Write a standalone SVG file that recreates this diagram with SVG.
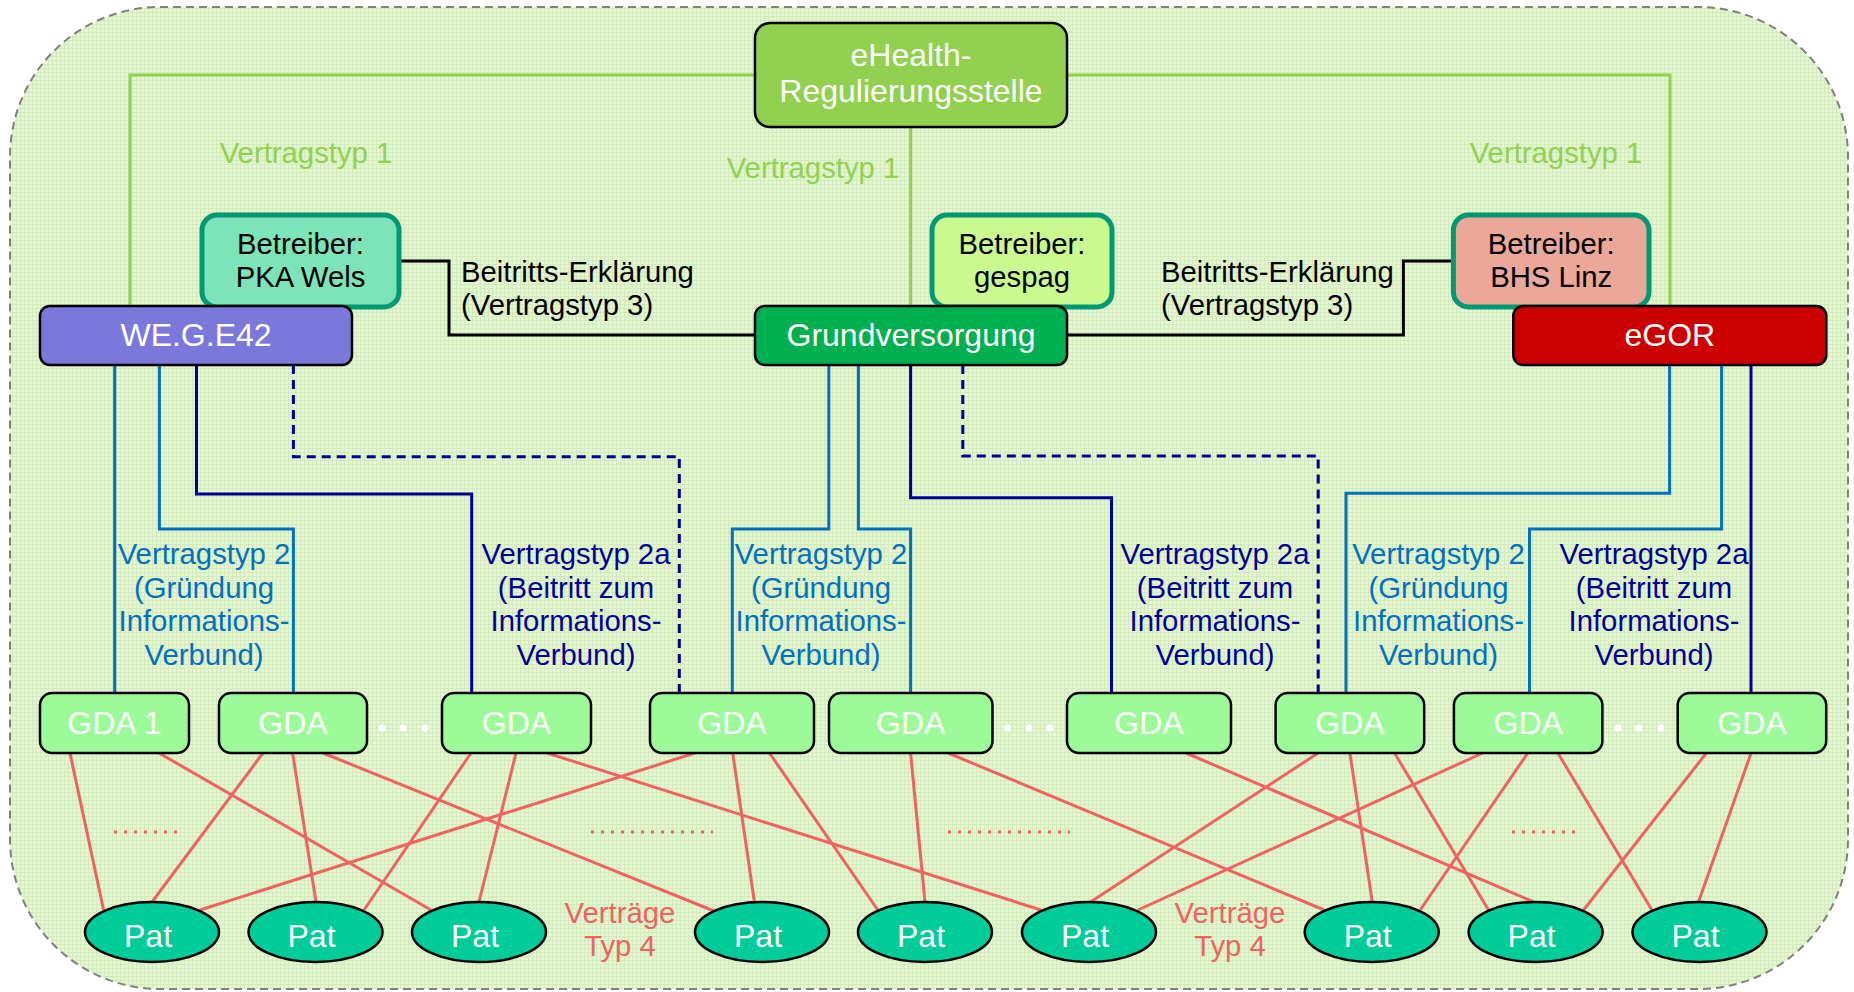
<svg xmlns="http://www.w3.org/2000/svg" width="1854" height="992" viewBox="0 0 1854 992">
<defs>
<pattern id="grid" width="4" height="4" patternUnits="userSpaceOnUse">
<rect width="4" height="4" fill="#E5F6D3"/>
<path d="M0 0.5H4M0.5 0V4" stroke="#D2EABC" stroke-width="1"/>
</pattern>
<style>
text{font-family:"Liberation Sans",Arial,sans-serif;}
.nt{font-size:32px;fill:#fff;text-anchor:middle;}
.bt{font-size:29.3px;fill:#000;text-anchor:middle;}
.box{stroke:#000;stroke-width:2.5;}
.betr{stroke:#009973;stroke-width:5;}
.gda{fill:#9CFB98;stroke:#000;stroke-width:2.5;}
.pat{fill:#00CC99;stroke:#000;stroke-width:2.5;}
.g1{fill:none;stroke:#92D050;stroke-width:3;}
.bk{fill:none;stroke:#000;stroke-width:3;}
.lb{fill:none;stroke:#0070C0;stroke-width:3;}
.nv{fill:none;stroke:#000099;stroke-width:3;}
.dash{stroke-dasharray:9 6;}
.rd{stroke:#F06262;stroke-width:3;}
.dots{stroke:#F06262;stroke-width:3;stroke-dasharray:3 7;}
.lab{font-size:29.3px;text-anchor:middle;}
.l1{fill:#92D050;}
.l2{fill:#0070C0;}
.l2a{fill:#000099;}
.l4{fill:#F06262;}
.be{font-size:29.3px;fill:#000;}
</style>
</defs>
<rect x="0" y="0" width="1854" height="992" fill="#fff"/>
<rect x="10" y="7" width="1838" height="982" rx="150" ry="150" fill="url(#grid)" stroke="#808080" stroke-width="2" stroke-dasharray="8 5"/>

<g id="connectors">
<path class="g1" d="M130,306V75H755"/>
<path class="g1" d="M1067,75H1670V306"/>
<path class="g1" d="M910.6,127V306" stroke-width="2"/>
<path class="bk" d="M399,261H449V335H755"/>
<path class="bk" d="M1453.4,261H1403.4V335H1067"/>
<path class="lb" d="M114.7,365V693"/>
<path class="lb" d="M159.4,365V529H293.4V693"/>
<path class="lb" d="M828.8,365V529H732.3V693"/>
<path class="lb" d="M858.4,365V529H910.6V693"/>
<path class="lb" d="M1669.6,365V493.3H1346V693"/>
<path class="lb" d="M1721.6,365V529H1529.5V693"/>
<path class="nv" d="M196.5,365V494H471.7V693"/>
<path class="nv" d="M910.6,365V497.7H1111.5V693"/>
<path class="nv" d="M1751,365V693"/>
<path class="nv dash" d="M293.4,365V456.7H679.3V693"/>
<path class="nv dash" d="M962.8,365V456H1318.2V693"/>
<g class="rd">
<line x1="70" y1="753" x2="103.6" y2="910"/>
<line x1="159" y1="753" x2="431" y2="910"/>
<line x1="263" y1="753" x2="152" y2="902"/>
<line x1="292.6" y1="753" x2="316" y2="902"/>
<line x1="323" y1="753" x2="714" y2="911"/>
<line x1="471" y1="753" x2="364" y2="910"/>
<line x1="516" y1="753" x2="479" y2="902"/>
<line x1="547" y1="753" x2="1041" y2="910"/>
<line x1="695" y1="753" x2="200" y2="910"/>
<line x1="732.7" y1="753" x2="754.4" y2="902"/>
<line x1="769.5" y1="753" x2="877.8" y2="910"/>
<line x1="910.6" y1="753" x2="925" y2="902"/>
<line x1="948" y1="753" x2="1324.2" y2="910"/>
<line x1="1186" y1="753" x2="1533.7" y2="902"/>
<line x1="1318.2" y1="753" x2="1090.5" y2="902"/>
<line x1="1482.7" y1="753" x2="1138" y2="910"/>
<line x1="1349.9" y1="753" x2="1372.3" y2="902"/>
<line x1="1394.5" y1="753" x2="1488.5" y2="910"/>
<line x1="1527.8" y1="753" x2="1420.2" y2="910"/>
<line x1="1557.9" y1="753" x2="1651.9" y2="910"/>
<line x1="1706.4" y1="753" x2="1583.6" y2="910"/>
<line x1="1751.1" y1="753" x2="1698.5" y2="902"/>
</g>
<line class="dots" x1="114" y1="832" x2="177" y2="832"/>
<line class="dots" x1="591" y1="832" x2="713" y2="832"/>
<line class="dots" x1="948" y1="832" x2="1070" y2="832"/>
<line class="dots" x1="1512" y1="832" x2="1575" y2="832"/>
<text class="lab l1" x="306" y="163">Vertragstyp 1</text>
<text class="lab l1" x="813" y="178">Vertragstyp 1</text>
<text class="lab l1" x="1556" y="163">Vertragstyp 1</text>
<text class="be" x="461" y="282">Beitritts-Erklärung</text>
<text class="be" x="461" y="315">(Vertragstyp 3)</text>
<text class="be" x="1161" y="282">Beitritts-Erklärung</text>
<text class="be" x="1161" y="315">(Vertragstyp 3)</text>
<g class="lab l2">
<text x="204" y="564">Vertragstyp 2</text><text x="204" y="597.5">(Gründung</text><text x="204" y="631">Informations-</text><text x="204" y="665">Verbund)</text>
<text x="821" y="564">Vertragstyp 2</text><text x="821" y="597.5">(Gründung</text><text x="821" y="631">Informations-</text><text x="821" y="665">Verbund)</text>
<text x="1438.5" y="564">Vertragstyp 2</text><text x="1438.5" y="597.5">(Gründung</text><text x="1438.5" y="631">Informations-</text><text x="1438.5" y="665">Verbund)</text>
</g>
<g class="lab l2a">
<text x="576" y="564">Vertragstyp 2a</text><text x="576" y="597.5">(Beitritt zum</text><text x="576" y="631">Informations-</text><text x="576" y="665">Verbund)</text>
<text x="1215" y="564">Vertragstyp 2a</text><text x="1215" y="597.5">(Beitritt zum</text><text x="1215" y="631">Informations-</text><text x="1215" y="665">Verbund)</text>
<text x="1654" y="564">Vertragstyp 2a</text><text x="1654" y="597.5">(Beitritt zum</text><text x="1654" y="631">Informations-</text><text x="1654" y="665">Verbund)</text>
</g>
<g class="lab l4">
<text x="620" y="923">Verträge</text><text x="620" y="956">Typ 4</text>
<text x="1230" y="923">Verträge</text><text x="1230" y="956">Typ 4</text>
</g>
</g>

<g id="ehealth"><rect class="box" x="755" y="23" width="312" height="104" rx="15" fill="#92D050"/><text class="nt" x="911" y="66">eHealth-</text><text class="nt" x="911" y="102">Regulierungsstelle</text></g>
<g id="pka"><rect class="betr" x="202" y="215" width="197" height="92" rx="15" fill="#7DE3B8"/><text class="bt" x="300.5" y="254">Betreiber:</text><text class="bt" x="300.5" y="287">PKA Wels</text></g>
<g id="gespag"><rect class="betr" x="932" y="215" width="180" height="92" rx="15" fill="#C9F98F"/><text class="bt" x="1022" y="254">Betreiber:</text><text class="bt" x="1022" y="287">gespag</text></g>
<g id="bhs"><rect class="betr" x="1453.4" y="215" width="195.6" height="92" rx="15" fill="#EBA898"/><text class="bt" x="1551.2" y="254">Betreiber:</text><text class="bt" x="1551.2" y="287">BHS Linz</text></g>
<g id="wege"><rect class="box" x="40" y="306" width="312" height="59" rx="10" fill="#7B78DC"/><text class="nt" x="196" y="346">WE.G.E42</text></g>
<g id="grund"><rect class="box" x="755" y="306" width="312" height="59" rx="10" fill="#00B050"/><text class="nt" x="911" y="346">Grundversorgung</text></g>
<g id="egor"><rect class="box" x="1513.3" y="306" width="313" height="59" rx="10" fill="#CC0000"/><text class="nt" x="1669.8" y="346">eGOR</text></g>

<g id="gda1"><rect class="gda" x="40" y="693" width="149" height="60" rx="12"/><text class="nt" x="114.5" y="734">GDA 1</text></g>
<g id="gda2"><rect class="gda" x="219" y="693" width="148" height="60" rx="12"/><text class="nt" x="293" y="734">GDA</text></g>
<g id="gda3"><rect class="gda" x="442" y="693" width="149" height="60" rx="12"/><text class="nt" x="516.5" y="734">GDA</text></g>
<g id="gda4"><rect class="gda" x="650" y="693" width="164" height="60" rx="12"/><text class="nt" x="732" y="734">GDA</text></g>
<g id="gda5"><rect class="gda" x="829" y="693" width="163.5" height="60" rx="12"/><text class="nt" x="910.7" y="734">GDA</text></g>
<g id="gda6"><rect class="gda" x="1067" y="693" width="164" height="60" rx="12"/><text class="nt" x="1149" y="734">GDA</text></g>
<g id="gda7"><rect class="gda" x="1275.6" y="693" width="148.6" height="60" rx="12"/><text class="nt" x="1349.9" y="734">GDA</text></g>
<g id="gda8"><rect class="gda" x="1453.9" y="693" width="148.5" height="60" rx="12"/><text class="nt" x="1528.2" y="734">GDA</text></g>
<g id="gda9"><rect class="gda" x="1677.7" y="693" width="148.5" height="60" rx="12"/><text class="nt" x="1752" y="734">GDA</text></g>
<g id="ellipsis" fill="#fff">
<circle cx="382" cy="728" r="3.5"/><circle cx="403" cy="728" r="3.5"/><circle cx="425" cy="728" r="3.5"/>
<circle cx="1007.5" cy="728" r="3.5"/><circle cx="1029" cy="728" r="3.5"/><circle cx="1050" cy="728" r="3.5"/>
<circle cx="1618" cy="728" r="3.5"/><circle cx="1639" cy="728" r="3.5"/><circle cx="1661" cy="728" r="3.5"/>
</g>

<g id="pat1"><ellipse class="pat" cx="152" cy="932" rx="67" ry="30"/><text class="nt" x="148" y="947">Pat</text></g>
<g id="pat2"><ellipse class="pat" cx="315.5" cy="932" rx="67" ry="30"/><text class="nt" x="311.5" y="947">Pat</text></g>
<g id="pat3"><ellipse class="pat" cx="479" cy="932" rx="67" ry="30"/><text class="nt" x="475" y="947">Pat</text></g>
<g id="pat4"><ellipse class="pat" cx="762" cy="932" rx="67" ry="30"/><text class="nt" x="758" y="947">Pat</text></g>
<g id="pat5"><ellipse class="pat" cx="925" cy="932" rx="67" ry="30"/><text class="nt" x="921" y="947">Pat</text></g>
<g id="pat6"><ellipse class="pat" cx="1089" cy="932" rx="67" ry="30"/><text class="nt" x="1085" y="947">Pat</text></g>
<g id="pat7"><ellipse class="pat" cx="1371.7" cy="932" rx="67" ry="30"/><text class="nt" x="1367.7" y="947">Pat</text></g>
<g id="pat8"><ellipse class="pat" cx="1535.6" cy="932" rx="67" ry="30"/><text class="nt" x="1531.6" y="947">Pat</text></g>
<g id="pat9"><ellipse class="pat" cx="1699.5" cy="932" rx="67" ry="30"/><text class="nt" x="1695.5" y="947">Pat</text></g>
</svg>
